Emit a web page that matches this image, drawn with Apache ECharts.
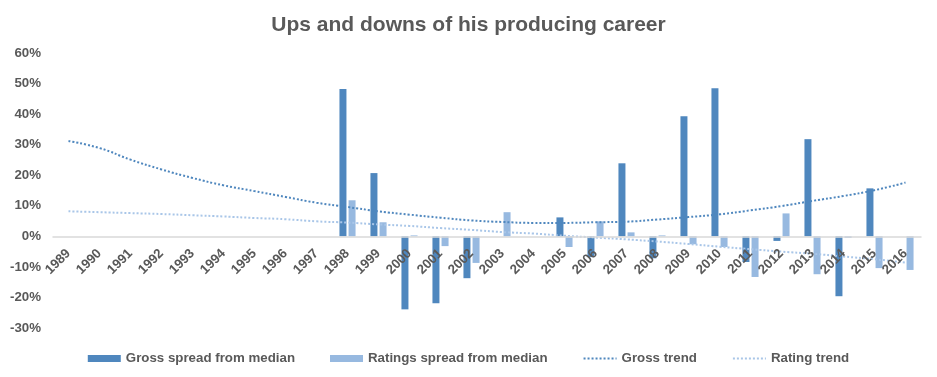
<!DOCTYPE html>
<html>
<head>
<meta charset="utf-8">
<script src="https://cdn.jsdelivr.net/npm/echarts@6/dist/echarts.min.js"></script>
<style>
  html, body { margin: 0; padding: 0; background: #fff; }
  #chart { width: 937px; height: 377px; }
</style>
</head>
<body>
<div id="chart"></div>
<script>
// years on the x axis
var years = ['1989','1990','1991','1992','1993','1994','1995','1996','1997','1998','1999','2000','2001','2002',
             '2003','2004','2005','2006','2007','2008','2009','2010','2011','2012','2013','2014','2015','2016'];

// spread from median, in percent
var grossSpread = [null,null,null,null,null,null,null,null,null,
                   48.2, 20.7, -23.9, -21.9, -13.7, null, null, 6.2, -6.8, 23.9, -7.2, 39.3, 48.5,
                   -8.4, -1.5, 31.8, -19.6, 15.7, null];
var ratingsSpread = [null,null,null,null,null,null,null,null,null,
                     11.8, 4.6, 0.3, -3.2, -8.7, 7.9, null, -3.5, 4.9, 1.3, 0.3, -2.6, -3.5,
                     -13.3, 7.5, -12.4, -0.5, -10.4, -11.0];

// trend lines
var grossTrend = [31.2, 28.9, 25.1, 21.9, 19.1, 16.7, 14.8, 12.9, 11.0, 9.6, 8.2, 7.1, 6.1, 5.2,
                  4.7, 4.4, 4.4, 4.6, 4.8, 5.5, 6.3, 7.2, 8.5, 9.9, 11.6, 13.2, 15.1, 17.6];
var ratingTrend = [8.2, 7.9, 7.6, 7.3, 6.9, 6.5, 6.0, 5.6, 4.9, 4.5, 3.9, 3.4, 2.7, 2.1,
                   1.4, 0.9, 0.2, -0.4, -1.0, -1.7, -2.5, -3.4, -4.2, -5.0, -5.7, -6.6, -7.5, -8.6];

var yMin = -30, yMax = 60;

var dark = '#4F87BE';
var light = '#97B9E0';
var trendLight = '#A9C6E8';
var textColor = '#595959';
var font = "'Liberation Sans', Arial, sans-serif";
var labelSize = 13.3;

var gridTop = 53, gridBottom = 49, chartH = 377;
// move the category axis up to the 0% line
var plotH = chartH - gridTop - gridBottom;
var zeroOffset = -plotH * (0 - yMin) / (yMax - yMin);

var chart = echarts.init(document.getElementById('chart'));
var option = {
    animation: false,
    title: {
        text: 'Ups and downs of his producing career',
        left: 'center',
        top: 10,
        textStyle: { fontFamily: font, fontSize: 21, fontWeight: 'bold', color: textColor }
    },
    legend: {
        top: 347,
        left: 'center',
        itemWidth: 33,
        itemHeight: 7,
        itemGap: 35,
        textStyle: { fontFamily: font, fontSize: labelSize, fontWeight: 'bold', color: textColor },
        data: [
            { name: 'Gross spread from median', icon: 'rect' },
            { name: 'Ratings spread from median', icon: 'rect' },
            { name: 'Gross trend', itemStyle: { opacity: 0 } },
            { name: 'Rating trend', itemStyle: { opacity: 0 } }
        ]
    },
    grid: { left: 53, right: 16, top: gridTop, bottom: gridBottom },
    xAxis: {
        type: 'category',
        data: years,
        position: 'bottom',
        offset: zeroOffset,
        z: 5,
        axisLine: { onZero: false, lineStyle: { color: '#D9D9D9', width: 1.5 } },
        axisTick: { show: false },
        axisLabel: {
            interval: 0,
            rotate: 45,
            margin: 15,
            fontFamily: font,
            fontSize: labelSize,
            fontWeight: 'bold',
            color: textColor
        }
    },
    yAxis: {
        type: 'value',
        min: yMin,
        max: yMax,
        interval: 10,
        axisLine: { show: false },
        axisTick: { show: false },
        splitLine: { show: false },
        axisLabel: {
            formatter: '{value}%',
            margin: 12,
            fontFamily: font,
            fontSize: labelSize,
            fontWeight: 'bold',
            color: textColor
        }
    },
    series: [
        {
            name: 'Gross spread from median',
            type: 'bar',
            data: grossSpread,
            barWidth: 7,
            barGap: '30%',
            itemStyle: { color: dark }
        },
        {
            name: 'Ratings spread from median',
            type: 'bar',
            data: ratingsSpread,
            barWidth: 7,
            itemStyle: { color: light }
        },
        {
            name: 'Gross trend',
            type: 'line',
            data: grossTrend,
            smooth: true,
            symbol: 'none',
            itemStyle: { color: dark },
            lineStyle: { color: dark, width: 2, type: [2, 2] }
        },
        {
            name: 'Rating trend',
            type: 'line',
            data: ratingTrend,
            smooth: true,
            symbol: 'none',
            itemStyle: { color: trendLight },
            lineStyle: { color: trendLight, width: 2, type: [2, 2] }
        }
    ]
};
chart.setOption(option);
</script>
</body>
</html>
